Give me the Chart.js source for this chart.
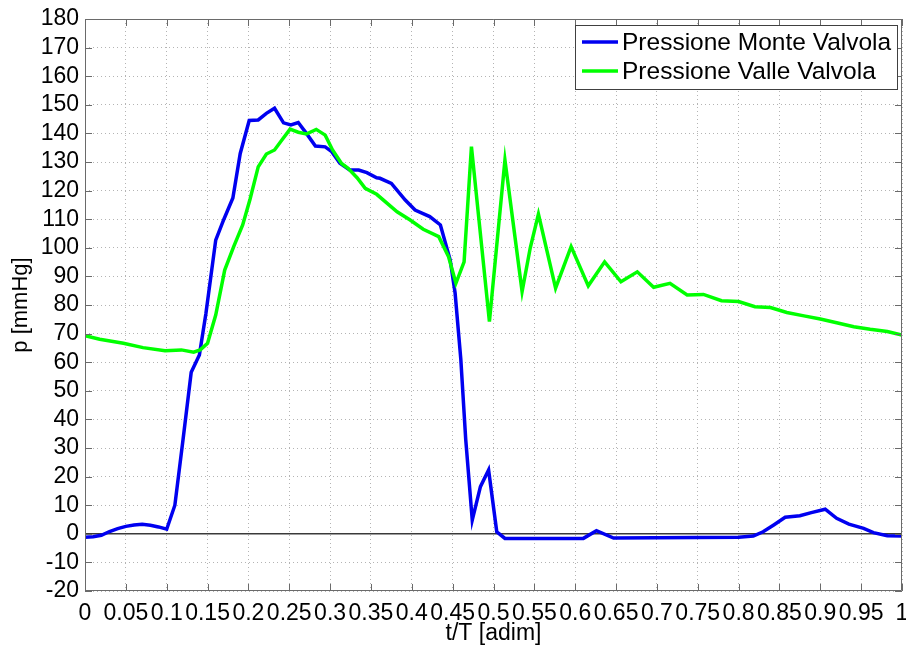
<!DOCTYPE html>
<html>
<head>
<meta charset="utf-8">
<script src="https://cdn.jsdelivr.net/npm/chart.js@4/dist/chart.umd.min.js"></script>
<style>
  html, body { margin: 0; padding: 0; background: #fff; }
  #wrap { width: 906px; height: 648px; position: relative; }
</style>
</head>
<body>
<div id="wrap"><canvas id="chart-canvas"></canvas></div>
<script>
// upstream pressure (Monte) and downstream pressure (Valle), t/T vs mmHg
const tMonte = [0, 0.01, 0.02, 0.03, 0.04, 0.05, 0.06, 0.07, 0.08, 0.09, 0.10, 0.11, 0.12, 0.13, 0.14, 0.148, 0.16, 0.17, 0.181, 0.19, 0.201, 0.212, 0.222, 0.232, 0.243, 0.252, 0.261, 0.271, 0.282, 0.294, 0.302, 0.312, 0.324, 0.335, 0.345, 0.357, 0.361, 0.375, 0.392, 0.404, 0.422, 0.435, 0.447, 0.453, 0.46, 0.466, 0.474, 0.484, 0.494, 0.504, 0.514, 0.61, 0.626, 0.647, 0.80, 0.818, 0.83, 0.843, 0.857, 0.875, 0.889, 0.906, 0.92, 0.935, 0.953, 0.965, 0.982, 1.0];
const pMonte = [-1.2, -1.0, -0.5, 0.8, 1.8, 2.6, 3.1, 3.3, 3.0, 2.4, 1.6, 10, 33, 56.5, 62.5, 77, 102.7, 110, 117.4, 133, 144.5, 144.7, 147, 148.8, 143.7, 143, 143.8, 140, 135.6, 135.3, 133.6, 129.6, 127.2, 127.2, 126.3, 124.5, 124.3, 122.5, 116.7, 113.2, 110.9, 108, 95.7, 84.2, 61, 33, 4.8, 16.5, 22.3, 0.7, -1.6, -1.6, 1.1, -1.5, -1.2, -0.8, 0.7, 3.1, 5.8, 6.3, 7.4, 8.6, 5.4, 3.4, 1.9, 0.4, -0.7, -0.8];

const tValle = [0, 0.018, 0.047, 0.071, 0.098, 0.118, 0.133, 0.141, 0.150, 0.160, 0.171, 0.182, 0.193, 0.202, 0.212, 0.222, 0.232, 0.241, 0.251, 0.261, 0.271, 0.283, 0.294, 0.303, 0.314, 0.322, 0.333, 0.343, 0.357, 0.382, 0.398, 0.414, 0.433, 0.445, 0.454, 0.464, 0.473, 0.495, 0.514, 0.535, 0.545, 0.555, 0.576, 0.595, 0.616, 0.636, 0.656, 0.676, 0.696, 0.716, 0.737, 0.757, 0.779, 0.80, 0.82, 0.839, 0.859, 0.88, 0.90, 0.92, 0.941, 0.961, 0.982, 1.0];
const pValle = [69.3, 68, 66.6, 65.1, 64, 64.3, 63.5, 64.3, 66.6, 76.5, 92.2, 100.4, 108, 117, 128.3, 132.8, 134.2, 137.7, 141.5, 140.4, 139.8, 141.4, 139.4, 134.2, 129.5, 127.8, 124.5, 120.8, 118.7, 112.6, 109.7, 106.5, 103.9, 96.9, 87.6, 95.1, 135.4, 74.2, 130.7, 84.7, 100, 111.8, 85.9, 100.4, 86.7, 95.1, 88.1, 91.6, 86.2, 87.6, 83.5, 83.7, 81.5, 81.2, 79.4, 79.1, 77.4, 76.2, 75.1, 73.8, 72.4, 71.5, 70.7, 69.5];

const tZero = [0, 1];
const pZero = [0, 0];

const xTickValues = [0, 0.05, 0.1, 0.15, 0.2, 0.25, 0.3, 0.35, 0.4, 0.45, 0.5, 0.55, 0.6, 0.65, 0.7, 0.75, 0.8, 0.85, 0.9, 0.95, 1];
const xTickLabels = ['0', '0.05', '0.1', '0.15', '0.2', '0.25', '0.3', '0.35', '0.4', '0.45', '0.5', '0.55', '0.6', '0.65', '0.7', '0.75', '0.8', '0.85', '0.9', '0.95', '1'];
const yTickValues = [-20, -10, 0, 10, 20, 30, 40, 50, 60, 70, 80, 90, 100, 110, 120, 130, 140, 150, 160, 170, 180];

const seriesNames = ['Pressione Monte Valvola', 'Pressione Valle Valvola'];
const xTitle = 't/T [adim]';
const yTitle = 'p [mmHg]';

const FONT = 'Liberation Sans, Arial, sans-serif';
const toPoints = (xs, ys) => xs.map((x, i) => ({ x, y: ys[i] }));

// box around the plot area with small inward ticks on all four sides
const axesBox = {
  id: 'axesBox',
  afterDatasetsDraw(chart) {
    const { ctx, chartArea: a, scales } = chart;
    const len = 7;
    ctx.save();
    ctx.strokeStyle = '#6a6a6a';
    ctx.lineWidth = 1;
    ctx.beginPath();
    ctx.rect(a.left + 0.5, a.top + 0.5, a.right - a.left - 1, a.bottom - a.top - 1);
    xTickValues.forEach(v => {
      const px = Math.round(scales.x.getPixelForValue(v)) + 0.5;
      ctx.moveTo(px, a.bottom); ctx.lineTo(px, a.bottom - len);
      ctx.moveTo(px, a.top); ctx.lineTo(px, a.top + len);
    });
    yTickValues.forEach(v => {
      const py = Math.round(scales.y.getPixelForValue(v)) + 0.5;
      ctx.moveTo(a.left, py); ctx.lineTo(a.left + len, py);
      ctx.moveTo(a.right, py); ctx.lineTo(a.right - len, py);
    });
    ctx.stroke();
    ctx.restore();
  }
};

// boxed legend inside the upper right corner
const boxLegend = {
  id: 'boxLegend',
  afterDraw(chart) {
    const { ctx, chartArea: a } = chart;
    const items = chart.data.datasets.filter(d => d.label);
    const x0 = 575, y0 = 25, w = a.right - 5 - x0, rowH = 29;
    const h = 64;
    ctx.save();
    ctx.fillStyle = '#fff';
    ctx.fillRect(x0, y0, w, h);
    ctx.strokeStyle = '#404040';
    ctx.lineWidth = 1;
    ctx.strokeRect(x0 + 0.5, y0 + 0.5, w, h);
    ctx.font = '24.5px ' + FONT;
    ctx.textBaseline = 'middle';
    ctx.fillStyle = '#000';
    items.forEach((d, i) => {
      const cy = y0 + 17 + i * rowH;
      ctx.strokeStyle = d.borderColor;
      ctx.lineWidth = 3.5;
      ctx.beginPath();
      ctx.moveTo(x0 + 7, cy);
      ctx.lineTo(x0 + 43, cy);
      ctx.stroke();
      ctx.fillText(d.label, x0 + 47, cy + 1);
    });
    ctx.restore();
  }
};

const gridStyle = {
  color: '#b4b4b4',
  lineWidth: 1,
  drawTicks: false
};

// keep the plot area fixed: no extra room for the outer tick labels
const noLabelPadding = scale => {
  scale.paddingLeft = 0;
  scale.paddingRight = 0;
  scale.paddingTop = 0;
  scale.paddingBottom = 0;
};

new Chart(document.getElementById('chart-canvas').getContext('2d'), {
  type: 'line',
  data: {
    datasets: [
      {
        label: seriesNames[0],
        data: toPoints(tMonte, pMonte),
        borderColor: '#0000f0',
        borderWidth: 3.5,
        pointRadius: 0,
        tension: 0,
        order: 1
      },
      {
        label: seriesNames[1],
        data: toPoints(tValle, pValle),
        borderColor: '#00ff00',
        borderWidth: 3.5,
        pointRadius: 0,
        tension: 0,
        order: 0
      },
      {
        data: toPoints(tZero, pZero),
        borderColor: '#3a3a3a',
        borderWidth: 1.5,
        pointRadius: 0,
        order: 2
      }
    ]
  },
  options: {
    responsive: true,
    maintainAspectRatio: false,
    animation: false,
    layout: { padding: { left: 0, right: 4, top: 19, bottom: 0 } },
    plugins: {
      legend: { display: false },
      tooltip: { enabled: false }
    },
    scales: {
      x: {
        type: 'linear',
        min: 0,
        max: 1,
        afterBuildTicks: scale => { scale.ticks = xTickValues.map(value => ({ value })); },
        afterFit: scale => { scale.height = 57; noLabelPadding(scale); },
        grid: { ...gridStyle },
        border: { display: false, dash: [1, 3] },
        ticks: {
          autoSkip: false,
          maxRotation: 0,
          minRotation: 0,
          padding: 9,
          color: '#000',
          font: { family: FONT, size: 23 },
          callback: (v, i) => xTickLabels[i]
        },
        title: {
          display: true,
          text: xTitle,
          color: '#000',
          font: { family: FONT, size: 23 },
          padding: { top: 0, bottom: 1 }
        }
      },
      y: {
        type: 'linear',
        min: -20,
        max: 180,
        afterBuildTicks: scale => { scale.ticks = yTickValues.map(value => ({ value })); },
        afterFit: scale => { scale.width = 85; noLabelPadding(scale); },
        grid: { ...gridStyle },
        border: { display: false, dash: [1, 3] },
        ticks: {
          autoSkip: false,
          padding: 6,
          color: '#000',
          font: { family: FONT, size: 23 }
        },
        title: {
          display: true,
          text: yTitle,
          color: '#000',
          font: { family: FONT, size: 22 },
          padding: { top: 8, bottom: 0 }
        }
      }
    }
  },
  plugins: [axesBox, boxLegend]
});
</script>
</body>
</html>
